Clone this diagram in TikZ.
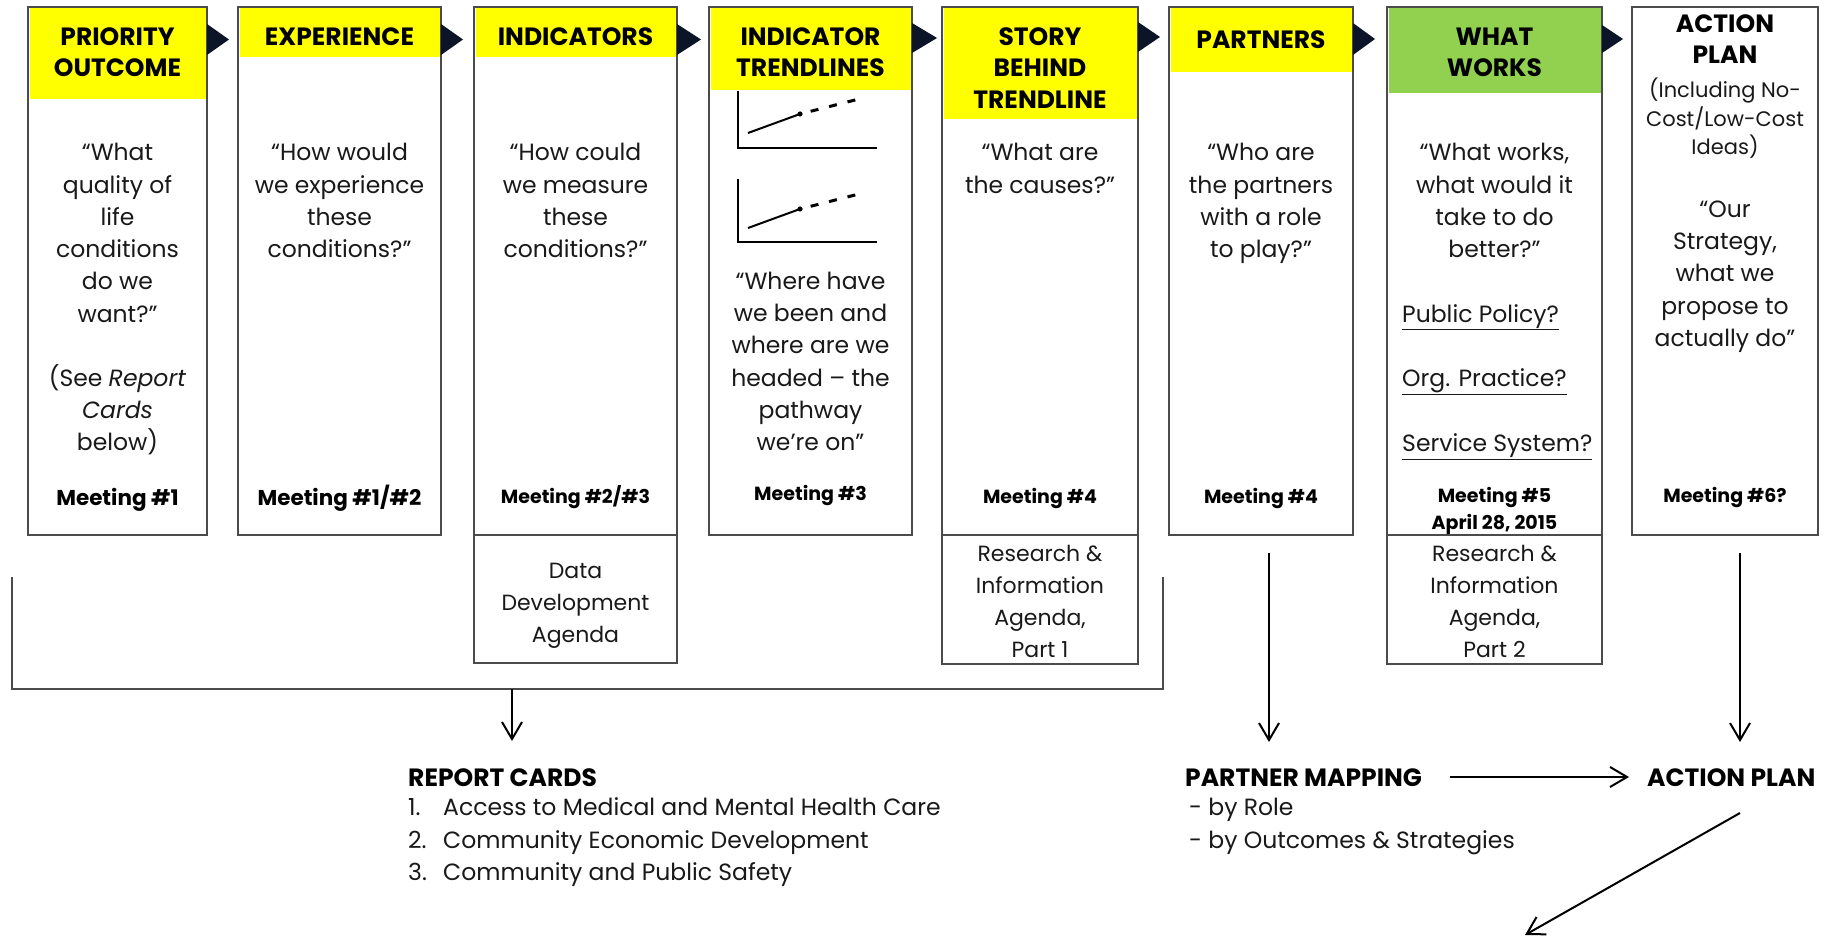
\documentclass[tikz,border=0pt]{standalone}
\usepackage{fontspec}
\setmainfont{Poppins}
\usetikzlibrary{arrows.meta}
\definecolor{hyel}{RGB}{255,255,0}
\definecolor{hgrn}{RGB}{146,208,80}
\definecolor{navy}{RGB}{12,20,40}
\definecolor{edge}{RGB}{75,75,75}
\definecolor{ink}{RGB}{25,25,25}
\begin{document}
\begin{tikzpicture}[x=1pt,y=-1pt,
  stagebox/.style={draw=edge, line width=1.6pt, inner sep=0pt},
  hdrtxt/.style={font=\bfseries\fontsize{25}{31.5}\selectfont, align=center, anchor=north, inner sep=0pt, text=black},
  qtxt/.style={font=\fontsize{23.5}{32.3}\selectfont, align=center, anchor=north, inner sep=0pt, text=ink},
  partxt/.style={font=\fontsize{21}{27.5}\selectfont, align=center, anchor=north, inner sep=0pt, text=ink},
  listtxt/.style={font=\fontsize{23.5}{32.3}\selectfont, align=left, anchor=north west, inner sep=0pt, text=ink},
  agtxt/.style={font=\fontsize{22}{32}\selectfont, align=center, anchor=north, inner sep=0pt, text=ink},
  mtgA/.style={font=\bfseries\fontsize{21.5}{25}\selectfont, anchor=base, inner sep=0pt, text=black},
  mtgB/.style={font=\bfseries\fontsize{19}{25}\selectfont, anchor=base, inner sep=0pt, text=black},
  lowhead/.style={font=\bfseries\fontsize{25}{30}\selectfont, anchor=base west, inner sep=0pt, text=black},
  lowlist/.style={font=\fontsize{23.5}{32.5}\selectfont, align=left, anchor=north west, inner sep=0pt, text=ink},
  arr/.style={line width=2pt, draw=black, -{Straight Barb[length=17pt,width=20pt,line width=2pt]}},
  brk/.style={line width=2pt, draw=edge},
  axis/.style={line width=2.6pt, draw=black},
  trend/.style={line width=2pt, draw=black},
  trenddash/.style={line width=3pt, draw=black, dash pattern=on 8pt off 11pt, dash phase=8pt},
  chev/.style={fill=navy}
]
\useasboundingbox (0,0) rectangle (1837,936);
\fill[white] (0,0) rectangle (1837,936);

% header fills
\fill[hyel] (29.5,8.5) rectangle (205.5,99);
\fill[hyel] (239.5,8.5) rectangle (439.5,57);
\fill[hyel] (475.5,8.5) rectangle (675.5,57);
\fill[hyel] (710.5,8.5) rectangle (910.5,90);
\fill[hyel] (943.5,8.5) rectangle (1136.5,119);
\fill[hyel] (1170.5,8.5) rectangle (1351.5,72);
\fill[hgrn] (1388.5,8.5) rectangle (1600.5,93);

% stage boxes
\node[stagebox, minimum width=179, minimum height=528] (b1) at (117.5,271) {};
\node[stagebox, minimum width=203, minimum height=528] (b2) at (339.5,271) {};
\node[stagebox, minimum width=203, minimum height=528] (b3) at (575.5,271) {};
\node[stagebox, minimum width=203, minimum height=528] (b4) at (810.5,271) {};
\node[stagebox, minimum width=196, minimum height=528] (b5) at (1040,271) {};
\node[stagebox, minimum width=184, minimum height=528] (b6) at (1261,271) {};
\node[stagebox, minimum width=215, minimum height=528] (b7) at (1494.5,271) {};
\node[stagebox, minimum width=186, minimum height=528] (b8) at (1725,271) {};

% agenda boxes
\node[stagebox, minimum width=203, minimum height=128] (g3) at (575.5,599) {};
\node[stagebox, minimum width=196, minimum height=129] (g5) at (1040,599.5) {};
\node[stagebox, minimum width=215, minimum height=129] (g7) at (1494.5,599.5) {};

% chevrons
\fill[chev] (207,24) -- (229,39.5) -- (207,55) -- cycle;
\fill[chev] (441,24) -- (463,39.5) -- (441,55) -- cycle;
\fill[chev] (677,24) -- (701,39.5) -- (677,55) -- cycle;
\fill[chev] (912,23) -- (937,38) -- (912,53) -- cycle;
\fill[chev] (1138,22) -- (1160,37) -- (1138,52) -- cycle;
\fill[chev] (1353,23) -- (1375,39) -- (1353,55) -- cycle;
\fill[chev] (1602,25) -- (1623,39) -- (1602,53) -- cycle;

% header texts
\node[hdrtxt] (h1) at (117.5,23) {\strut PRIORITY\\OUTCOME};
\node[hdrtxt] (h2) at (339.5,23) {\strut EXPERIENCE};
\node[hdrtxt] (h3) at (575.5,23) {\strut INDICATORS};
\node[hdrtxt] (h4) at (810.5,23) {\strut INDICATOR\\TRENDLINES};
\node[hdrtxt] (h5) at (1040,23) {\strut STORY\\BEHIND\\TRENDLINE};
\node[hdrtxt] (h6) at (1261,26) {\strut PARTNERS};
\node[hdrtxt] (h7) at (1494.5,23) {\strut WHAT\\WORKS};
\node[hdrtxt] (h8) at (1725,10) {\strut ACTION\\PLAN};
\node[partxt] (p8) at (1725,77.7) {\strut(Including No-\\Cost/Low-Cost\\Ideas)};

% question texts
\node[qtxt] (q1) at (117.5,137.9) {\strut“What\\quality of\\life\\conditions\\do we\\want?”};
\node[qtxt] (s1) at (117.5,363.4) {\strut(See \textit{Report}\\\textit{Cards}\\below)};
\node[qtxt] (q2) at (339.5,137.9) {\strut“How would\\we experience\\these\\conditions?”};
\node[qtxt] (q3) at (575.5,137.9) {\strut“How could\\we measure\\these\\conditions?”};
\node[qtxt] (q4) at (810.5,266.4) {\strut“Where have\\we been and\\where are we\\headed – the\\pathway\\we’re on”};
\node[qtxt] (q5) at (1040,137.9) {\strut“What are\\the causes?”};
\node[qtxt] (q6) at (1261,137.9) {\strut“Who are\\the partners\\with a role\\to play?”};
\node[qtxt] (q7) at (1494.5,137.9) {\strut“What works,\\what would it\\take to do\\better?”};
\node[listtxt] (l7) at (1402,299.4) {\strut\underline{Public Policy?}\\[32.3pt]\underline{Org. Practice?}\\[32.3pt]\underline{Service System?}};
\node[qtxt] (q8) at (1725,194.4) {\strut“Our\\Strategy,\\what we\\propose to\\actually do”};

% meetings
\node[mtgA] (m1) at (117.5,505) {Meeting \#1};
\node[mtgA] (m2) at (339.5,505) {Meeting \#1/\#2};
\node[mtgB] (m3) at (575.5,503) {Meeting \#2/\#3};
\node[mtgB] (m4) at (810.5,500) {Meeting \#3};
\node[mtgB] (m5) at (1040,503) {Meeting \#4};
\node[mtgB] (m6) at (1261,503) {Meeting \#4};
\node[mtgB] (m7) at (1494.5,502) {Meeting \#5};
\node[mtgB] (m7d) at (1494.5,529) {April 28, 2015};
\node[mtgB] (m8) at (1725,502) {Meeting \#6?};

% agenda texts
\node[agtxt] (a3) at (575.5,555.6) {\strut Data\\Development\\Agenda};
\node[agtxt] (a5) at (1040,538.6) {\strut Research \&\\Information\\Agenda,\\Part 1};
\node[agtxt] (a7) at (1494.5,538.6) {\strut Research \&\\Information\\Agenda,\\Part 2};

% trend graphs
\draw[axis] (738,91) -- (738,148) -- (877,148);
\draw[trend] (748,133) -- (800,114);
\fill (800,114) circle (2.6);
\draw[trenddash] (800,114) -- (859,99);
\draw[axis] (738,179) -- (738,242) -- (877,242);
\draw[trend] (748,228) -- (800,209);
\fill (800,209) circle (2.6);
\draw[trenddash] (800,209) -- (859,194);

% lower texts
\node[lowhead] (rc) at (408,786) {REPORT CARDS};
\node[lowlist] (rcl) at (408,792.8) {\strut\makebox[35pt][l]{1.}Access to Medical and Mental Health Care\\\makebox[35pt][l]{2.}Community Economic Development\\\makebox[35pt][l]{3.}Community and Public Safety};
\node[lowhead] (pm) at (1185,786) {PARTNER MAPPING};
\node[lowlist] (pml) at (1189,792.8) {\strut- by Role\\- by Outcomes \& Strategies};
\node[lowhead] (ap) at (1647,786) {ACTION PLAN};

% bracket and connectors
\coordinate (brl) at (12,577);
\coordinate (brr) at (1163,577);
\coordinate (brm) at (512,689);
\coordinate (rcin) at (512,741);
\draw[brk] (brl) -- (12,689) -- (1163,689) -- (brr);
\draw[arr] (brm) -- (rcin);

\coordinate (p6s) at (1269,553);
\coordinate (p6e) at (1269,742);
\draw[arr] (p6s) -- (p6e);

\coordinate (p8s) at (1740,553);
\coordinate (p8e) at (1740,742);
\draw[arr] (p8s) -- (p8e);

\coordinate (pmo) at (1450,777);
\coordinate (api) at (1629,777);
\draw[arr] (pmo) -- (api);

\coordinate (aps) at (1740,813);
\coordinate (ape) at (1525,935);
\draw[arr] (aps) -- (ape);
\end{tikzpicture}
\end{document}
